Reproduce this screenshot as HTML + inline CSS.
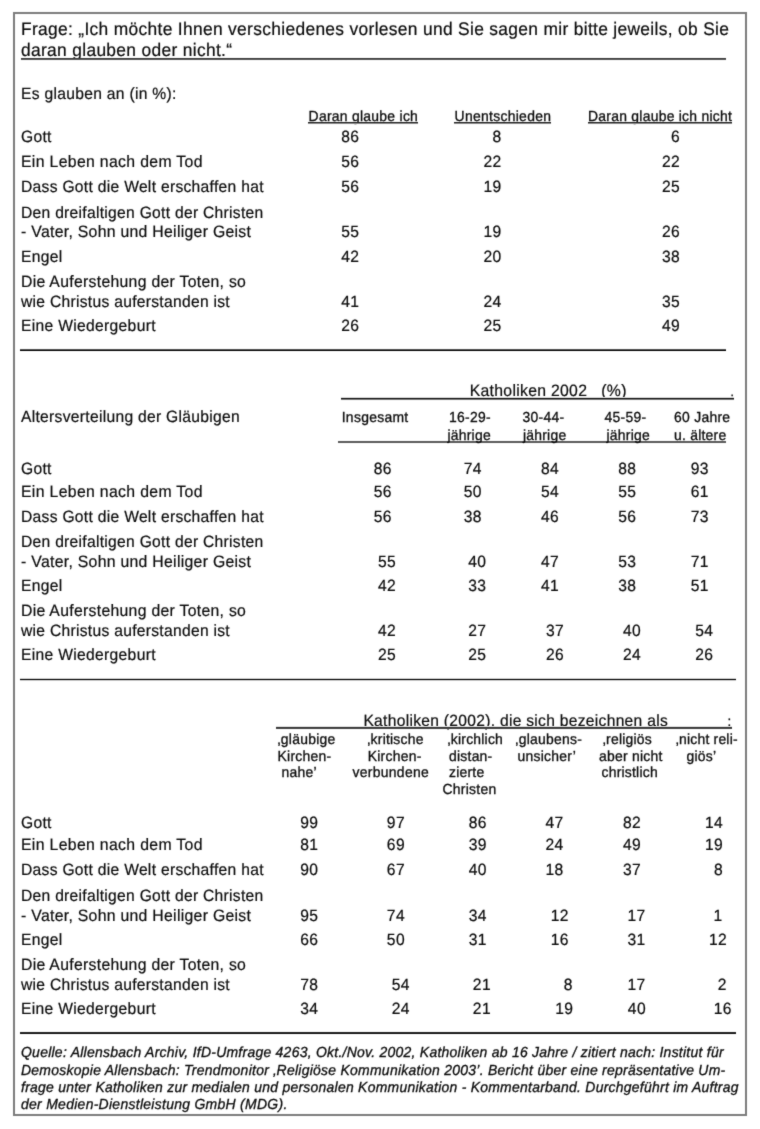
<!DOCTYPE html>
<html lang="de">
<head>
<meta charset="utf-8">
<title>Tabelle</title>
<style>
html,body{margin:0;padding:0;background:#fff;}
body{width:760px;height:1129px;position:relative;overflow:hidden;font-family:"Liberation Sans",sans-serif;color:#0a0a0a;}
.frame{position:absolute;left:13px;top:12px;width:734px;height:1104px;border:2px solid #7c7c7c;box-sizing:border-box;}
.page{position:absolute;left:0;top:0;width:760px;height:1129px;filter:url(#soft);}
.t{position:absolute;white-space:pre;line-height:20px;transform:scaleY(1.045);text-rendering:geometricPrecision;-webkit-text-stroke:0.2px #0a0a0a;}
.a{transform-origin:0 16px;}
.b{transform-origin:0 15px;}
.c{transform-origin:0 14px;}
.s{-webkit-text-stroke-width:0.3px;}
.u{text-decoration:underline;text-decoration-thickness:1.5px;text-underline-offset:0.2px;text-decoration-color:#2a2a2a;text-decoration-skip-ink:none;}
.i{font-style:italic;}
.hl{position:absolute;}
</style>
</head>
<body>
<svg width="0" height="0" style="position:absolute"><filter id="soft" x="0" y="0" width="100%" height="100%" color-interpolation-filters="sRGB"><feConvolveMatrix order="3" kernelMatrix="0.02 0.08 0.02 0.08 0.60 0.08 0.02 0.08 0.02" edgeMode="duplicate" preserveAlpha="false"/></filter></svg>
<div class="page">
<div class="frame"></div>
<div class="t a " style="left:21.00px;top:19px;font-size:17.386px;letter-spacing:0.326px">Frage: „Ich möchte Ihnen verschiedenes vorlesen und Sie sagen mir bitte jeweils, ob Sie</div>
<div class="t a " style="left:21.00px;top:40px;font-size:17.386px;letter-spacing:0.325px">daran glauben oder nicht.“</div>
<div class="hl" style="left:21px;top:58px;width:705px;height:1px;background:#3a3a3a"></div>
<div class="hl" style="left:21px;top:59px;width:705px;height:1px;background:#555"></div>
<div class="t c " style="left:21.00px;top:85px;font-size:15.648px;letter-spacing:0.297px">Es glauben an (in %):</div>
<div class="t b s " style="left:308.60px;top:106px;font-size:13.920px;letter-spacing:0.274px">Daran glaube ich</div>
<div class="hl" style="left:308px;top:122px;width:110px;height:1px;background:#222"></div>
<div class="hl" style="left:308px;top:123px;width:110px;height:1px;background:#8a8a8a"></div>
<div class="t b s " style="left:454.60px;top:106px;font-size:13.920px;letter-spacing:0.298px">Unentschieden</div>
<div class="hl" style="left:454px;top:122px;width:97px;height:1px;background:#222"></div>
<div class="hl" style="left:454px;top:123px;width:97px;height:1px;background:#8a8a8a"></div>
<div class="t b s " style="left:588.00px;top:106px;font-size:13.920px;letter-spacing:0.262px">Daran glaube ich nicht</div>
<div class="hl" style="left:588px;top:122px;width:144px;height:1px;background:#222"></div>
<div class="hl" style="left:588px;top:123px;width:144px;height:1px;background:#8a8a8a"></div>
<div class="t c " style="left:21.00px;top:128px;font-size:15.648px;letter-spacing:0.308px">Gott</div>
<div class="t c " style="left:21.00px;top:153px;font-size:15.802px;letter-spacing:0.331px">Ein Leben nach dem Tod</div>
<div class="t c " style="left:21.00px;top:178px;font-size:15.648px;letter-spacing:0.295px">Dass Gott die Welt erschaffen hat</div>
<div class="t c " style="left:21.00px;top:204px;font-size:15.648px;letter-spacing:0.286px">Den dreifaltigen Gott der Christen</div>
<div class="t c " style="left:21.00px;top:223px;font-size:15.802px;letter-spacing:0.288px">- Vater, Sohn und Heiliger Geist</div>
<div class="t c " style="left:21.00px;top:248px;font-size:15.648px;letter-spacing:0.334px">Engel</div>
<div class="t c " style="left:21.00px;top:273px;font-size:15.773px;letter-spacing:0.300px">Die Auferstehung der Toten, so</div>
<div class="t c " style="left:21.00px;top:293px;font-size:15.648px;letter-spacing:0.289px">wie Christus auferstanden ist</div>
<div class="t c " style="left:21.00px;top:317px;font-size:15.648px;letter-spacing:0.318px">Eine Wiedergeburt</div>
<div class="t c " style="right:400.64px;top:128px;font-size:15.648px;letter-spacing:0.363px">86</div>
<div class="t c " style="right:258.44px;top:128px;font-size:15.648px;letter-spacing:0.363px">8</div>
<div class="t c " style="right:79.94px;top:128px;font-size:15.648px;letter-spacing:0.363px">6</div>
<div class="t c " style="right:400.64px;top:153px;font-size:15.648px;letter-spacing:0.363px">56</div>
<div class="t c " style="right:258.44px;top:153px;font-size:15.648px;letter-spacing:0.363px">22</div>
<div class="t c " style="right:79.94px;top:153px;font-size:15.648px;letter-spacing:0.363px">22</div>
<div class="t c " style="right:400.64px;top:178px;font-size:15.648px;letter-spacing:0.363px">56</div>
<div class="t c " style="right:258.44px;top:178px;font-size:15.648px;letter-spacing:0.363px">19</div>
<div class="t c " style="right:79.94px;top:178px;font-size:15.648px;letter-spacing:0.363px">25</div>
<div class="t c " style="right:400.64px;top:223px;font-size:15.648px;letter-spacing:0.363px">55</div>
<div class="t c " style="right:258.44px;top:223px;font-size:15.648px;letter-spacing:0.363px">19</div>
<div class="t c " style="right:79.94px;top:223px;font-size:15.648px;letter-spacing:0.363px">26</div>
<div class="t c " style="right:400.64px;top:248px;font-size:15.648px;letter-spacing:0.363px">42</div>
<div class="t c " style="right:258.44px;top:248px;font-size:15.648px;letter-spacing:0.363px">20</div>
<div class="t c " style="right:79.94px;top:248px;font-size:15.648px;letter-spacing:0.363px">38</div>
<div class="t c " style="right:400.64px;top:293px;font-size:15.648px;letter-spacing:0.363px">41</div>
<div class="t c " style="right:258.44px;top:293px;font-size:15.648px;letter-spacing:0.363px">24</div>
<div class="t c " style="right:79.94px;top:293px;font-size:15.648px;letter-spacing:0.363px">35</div>
<div class="t c " style="right:400.64px;top:317px;font-size:15.648px;letter-spacing:0.363px">26</div>
<div class="t c " style="right:258.44px;top:317px;font-size:15.648px;letter-spacing:0.363px">25</div>
<div class="t c " style="right:79.94px;top:317px;font-size:15.648px;letter-spacing:0.363px">49</div>
<div class="hl" style="left:20px;top:349px;width:706px;height:1px;background:#555"></div>
<div class="hl" style="left:20px;top:350px;width:706px;height:1px;background:#000"></div>
<div class="t c " style="left:469.70px;top:382px;font-size:15.773px;letter-spacing:0.299px">Katholiken 2002   (%)</div>
<div class="t c s " style="left:730.50px;top:382px;font-size:12.000px;letter-spacing:0.139px">.</div>
<div class="hl" style="left:341px;top:397px;width:393px;height:1px;background:#e0e0e0"></div>
<div class="hl" style="left:341px;top:398px;width:393px;height:1px;background:#111"></div>
<div class="hl" style="left:341px;top:399px;width:393px;height:1px;background:#777"></div>
<div class="t c " style="left:21.00px;top:408px;font-size:15.648px;letter-spacing:0.292px">Altersverteilung der Gläubigen</div>
<div class="t b s " style="left:341.70px;top:407px;font-size:13.920px;letter-spacing:0.297px">Insgesamt</div>
<div class="hl" style="left:338px;top:441px;width:388px;height:1px;background:#5a5a5a"></div>
<div class="hl" style="left:338px;top:442px;width:388px;height:1px;background:#5a5a5a"></div>
<div class="t b s " style="left:449.00px;top:407px;font-size:13.920px;letter-spacing:0.279px">16-29-</div>
<div class="t b s " style="left:447.40px;top:425px;font-size:13.920px;letter-spacing:0.249px">jährige</div>
<div class="t b s " style="left:522.50px;top:407px;font-size:13.920px;letter-spacing:0.279px">30-44-</div>
<div class="t b s " style="left:522.90px;top:425px;font-size:13.920px;letter-spacing:0.249px">jährige</div>
<div class="t b s " style="left:604.50px;top:407px;font-size:13.920px;letter-spacing:0.279px">45-59-</div>
<div class="t b s " style="left:606.50px;top:425px;font-size:13.920px;letter-spacing:0.249px">jährige</div>
<div class="t b s " style="left:674.00px;top:407px;font-size:13.920px;letter-spacing:0.282px">60 Jahre</div>
<div class="t b s " style="left:674.00px;top:425px;font-size:13.920px;letter-spacing:0.233px">u. ältere</div>
<div class="t c " style="left:21.00px;top:460px;font-size:15.648px;letter-spacing:0.308px">Gott</div>
<div class="t c " style="left:21.00px;top:483px;font-size:15.802px;letter-spacing:0.331px">Ein Leben nach dem Tod</div>
<div class="t c " style="left:21.00px;top:508px;font-size:15.648px;letter-spacing:0.295px">Dass Gott die Welt erschaffen hat</div>
<div class="t c " style="left:21.00px;top:533px;font-size:15.648px;letter-spacing:0.286px">Den dreifaltigen Gott der Christen</div>
<div class="t c " style="left:21.00px;top:553px;font-size:15.802px;letter-spacing:0.288px">- Vater, Sohn und Heiliger Geist</div>
<div class="t c " style="left:21.00px;top:577px;font-size:15.648px;letter-spacing:0.334px">Engel</div>
<div class="t c " style="left:21.00px;top:602px;font-size:15.773px;letter-spacing:0.300px">Die Auferstehung der Toten, so</div>
<div class="t c " style="left:21.00px;top:622px;font-size:15.648px;letter-spacing:0.289px">wie Christus auferstanden ist</div>
<div class="t c " style="left:21.00px;top:646px;font-size:15.648px;letter-spacing:0.318px">Eine Wiedergeburt</div>
<div class="t c " style="right:368.24px;top:460px;font-size:15.648px;letter-spacing:0.363px">86</div>
<div class="t c " style="right:278.14px;top:460px;font-size:15.648px;letter-spacing:0.363px">74</div>
<div class="t c " style="right:200.94px;top:460px;font-size:15.648px;letter-spacing:0.363px">84</div>
<div class="t c " style="right:123.64px;top:460px;font-size:15.648px;letter-spacing:0.363px">88</div>
<div class="t c " style="right:51.14px;top:460px;font-size:15.648px;letter-spacing:0.363px">93</div>
<div class="t c " style="right:368.24px;top:483px;font-size:15.648px;letter-spacing:0.363px">56</div>
<div class="t c " style="right:278.14px;top:483px;font-size:15.648px;letter-spacing:0.363px">50</div>
<div class="t c " style="right:200.94px;top:483px;font-size:15.648px;letter-spacing:0.363px">54</div>
<div class="t c " style="right:123.64px;top:483px;font-size:15.648px;letter-spacing:0.363px">55</div>
<div class="t c " style="right:51.14px;top:483px;font-size:15.648px;letter-spacing:0.363px">61</div>
<div class="t c " style="right:368.24px;top:508px;font-size:15.648px;letter-spacing:0.363px">56</div>
<div class="t c " style="right:278.14px;top:508px;font-size:15.648px;letter-spacing:0.363px">38</div>
<div class="t c " style="right:200.94px;top:508px;font-size:15.648px;letter-spacing:0.363px">46</div>
<div class="t c " style="right:123.64px;top:508px;font-size:15.648px;letter-spacing:0.363px">56</div>
<div class="t c " style="right:51.14px;top:508px;font-size:15.648px;letter-spacing:0.363px">73</div>
<div class="t c " style="right:363.94px;top:553px;font-size:15.648px;letter-spacing:0.363px">55</div>
<div class="t c " style="right:273.64px;top:553px;font-size:15.648px;letter-spacing:0.363px">40</div>
<div class="t c " style="right:200.94px;top:553px;font-size:15.648px;letter-spacing:0.363px">47</div>
<div class="t c " style="right:123.64px;top:553px;font-size:15.648px;letter-spacing:0.363px">53</div>
<div class="t c " style="right:51.14px;top:553px;font-size:15.648px;letter-spacing:0.363px">71</div>
<div class="t c " style="right:363.94px;top:577px;font-size:15.648px;letter-spacing:0.363px">42</div>
<div class="t c " style="right:273.64px;top:577px;font-size:15.648px;letter-spacing:0.363px">33</div>
<div class="t c " style="right:200.94px;top:577px;font-size:15.648px;letter-spacing:0.363px">41</div>
<div class="t c " style="right:123.64px;top:577px;font-size:15.648px;letter-spacing:0.363px">38</div>
<div class="t c " style="right:51.14px;top:577px;font-size:15.648px;letter-spacing:0.363px">51</div>
<div class="t c " style="right:363.94px;top:622px;font-size:15.648px;letter-spacing:0.363px">42</div>
<div class="t c " style="right:273.64px;top:622px;font-size:15.648px;letter-spacing:0.363px">27</div>
<div class="t c " style="right:195.94px;top:622px;font-size:15.648px;letter-spacing:0.363px">37</div>
<div class="t c " style="right:118.94px;top:622px;font-size:15.648px;letter-spacing:0.363px">40</div>
<div class="t c " style="right:46.64px;top:622px;font-size:15.648px;letter-spacing:0.363px">54</div>
<div class="t c " style="right:363.94px;top:646px;font-size:15.648px;letter-spacing:0.363px">25</div>
<div class="t c " style="right:273.64px;top:646px;font-size:15.648px;letter-spacing:0.363px">25</div>
<div class="t c " style="right:195.94px;top:646px;font-size:15.648px;letter-spacing:0.363px">26</div>
<div class="t c " style="right:118.94px;top:646px;font-size:15.648px;letter-spacing:0.363px">24</div>
<div class="t c " style="right:46.64px;top:646px;font-size:15.648px;letter-spacing:0.363px">26</div>
<div class="hl" style="left:20px;top:678px;width:716px;height:1px;background:#d8d8d8"></div>
<div class="hl" style="left:20px;top:679px;width:716px;height:1px;background:#000"></div>
<div class="hl" style="left:20px;top:680px;width:716px;height:1px;background:#d8d8d8"></div>
<div class="t c " style="left:363.40px;top:712px;font-size:15.619px;letter-spacing:0.290px">Katholiken (2002), die sich bezeichnen als</div>
<div class="t c s " style="left:727.60px;top:712px;font-size:13.440px;letter-spacing:0.156px">:</div>
<div class="hl" style="left:276px;top:726px;width:456px;height:1px;background:#e8e8e8"></div>
<div class="hl" style="left:276px;top:727px;width:456px;height:1px;background:#333"></div>
<div class="hl" style="left:276px;top:728px;width:456px;height:1px;background:#444"></div>
<div class="t b s " style="left:277.50px;top:729px;font-size:13.920px;letter-spacing:0.258px">‚gläubige</div>
<div class="t b s " style="left:277.50px;top:746px;font-size:13.920px;letter-spacing:0.270px">Kirchen-</div>
<div class="t b s " style="left:281.50px;top:762px;font-size:13.920px;letter-spacing:0.284px">nahe’</div>
<div class="t b s " style="left:367.30px;top:729px;font-size:13.920px;letter-spacing:0.226px">‚kritische</div>
<div class="t b s " style="left:367.70px;top:746px;font-size:13.920px;letter-spacing:0.270px">Kirchen-</div>
<div class="t b s " style="left:352.50px;top:762px;font-size:13.920px;letter-spacing:0.306px">verbundene</div>
<div class="t b s " style="left:447.50px;top:729px;font-size:13.920px;letter-spacing:0.222px">‚kirchlich</div>
<div class="t b s " style="left:449.00px;top:746px;font-size:13.920px;letter-spacing:0.249px">distan-</div>
<div class="t b s " style="left:449.00px;top:762px;font-size:13.920px;letter-spacing:0.236px">zierte</div>
<div class="t b s " style="left:442.50px;top:779px;font-size:13.920px;letter-spacing:0.270px">Christen</div>
<div class="t b s " style="left:515.30px;top:729px;font-size:13.920px;letter-spacing:0.268px">‚glaubens-</div>
<div class="t b s " style="left:517.50px;top:746px;font-size:13.920px;letter-spacing:0.260px">unsicher’</div>
<div class="t b s " style="left:602.80px;top:729px;font-size:13.920px;letter-spacing:0.218px">‚religiös</div>
<div class="t b s " style="left:599.00px;top:746px;font-size:13.920px;letter-spacing:0.255px">aber nicht</div>
<div class="t b s " style="left:601.50px;top:762px;font-size:13.920px;letter-spacing:0.226px">christlich</div>
<div class="t b s " style="left:675.80px;top:729px;font-size:13.920px;letter-spacing:0.207px">‚nicht reli-</div>
<div class="t b s " style="left:686.50px;top:746px;font-size:13.920px;letter-spacing:0.239px">giös’</div>
<div class="t c " style="left:21.00px;top:814px;font-size:15.648px;letter-spacing:0.308px">Gott</div>
<div class="t c " style="left:21.00px;top:836px;font-size:15.802px;letter-spacing:0.331px">Ein Leben nach dem Tod</div>
<div class="t c " style="left:21.00px;top:861px;font-size:15.648px;letter-spacing:0.295px">Dass Gott die Welt erschaffen hat</div>
<div class="t c " style="left:21.00px;top:887px;font-size:15.648px;letter-spacing:0.286px">Den dreifaltigen Gott der Christen</div>
<div class="t c " style="left:21.00px;top:907px;font-size:15.802px;letter-spacing:0.288px">- Vater, Sohn und Heiliger Geist</div>
<div class="t c " style="left:21.00px;top:931px;font-size:15.648px;letter-spacing:0.334px">Engel</div>
<div class="t c " style="left:21.00px;top:956px;font-size:15.773px;letter-spacing:0.300px">Die Auferstehung der Toten, so</div>
<div class="t c " style="left:21.00px;top:976px;font-size:15.648px;letter-spacing:0.289px">wie Christus auferstanden ist</div>
<div class="t c " style="left:21.00px;top:1000px;font-size:15.648px;letter-spacing:0.318px">Eine Wiedergeburt</div>
<div class="t c " style="right:441.64px;top:814px;font-size:15.648px;letter-spacing:0.363px">99</div>
<div class="t c " style="right:355.04px;top:814px;font-size:15.648px;letter-spacing:0.363px">97</div>
<div class="t c " style="right:273.24px;top:814px;font-size:15.648px;letter-spacing:0.363px">86</div>
<div class="t c " style="right:196.44px;top:814px;font-size:15.648px;letter-spacing:0.363px">47</div>
<div class="t c " style="right:118.84px;top:814px;font-size:15.648px;letter-spacing:0.363px">82</div>
<div class="t c " style="right:36.94px;top:814px;font-size:15.648px;letter-spacing:0.363px">14</div>
<div class="t c " style="right:441.64px;top:836px;font-size:15.648px;letter-spacing:0.363px">81</div>
<div class="t c " style="right:355.04px;top:836px;font-size:15.648px;letter-spacing:0.363px">69</div>
<div class="t c " style="right:273.24px;top:836px;font-size:15.648px;letter-spacing:0.363px">39</div>
<div class="t c " style="right:196.44px;top:836px;font-size:15.648px;letter-spacing:0.363px">24</div>
<div class="t c " style="right:118.84px;top:836px;font-size:15.648px;letter-spacing:0.363px">49</div>
<div class="t c " style="right:36.94px;top:836px;font-size:15.648px;letter-spacing:0.363px">19</div>
<div class="t c " style="right:441.64px;top:861px;font-size:15.648px;letter-spacing:0.363px">90</div>
<div class="t c " style="right:355.04px;top:861px;font-size:15.648px;letter-spacing:0.363px">67</div>
<div class="t c " style="right:273.24px;top:861px;font-size:15.648px;letter-spacing:0.363px">40</div>
<div class="t c " style="right:196.44px;top:861px;font-size:15.648px;letter-spacing:0.363px">18</div>
<div class="t c " style="right:118.84px;top:861px;font-size:15.648px;letter-spacing:0.363px">37</div>
<div class="t c " style="right:36.94px;top:861px;font-size:15.648px;letter-spacing:0.363px">8</div>
<div class="t c " style="right:441.64px;top:907px;font-size:15.648px;letter-spacing:0.363px">95</div>
<div class="t c " style="right:355.04px;top:907px;font-size:15.648px;letter-spacing:0.363px">74</div>
<div class="t c " style="right:273.24px;top:907px;font-size:15.648px;letter-spacing:0.363px">34</div>
<div class="t c " style="right:191.24px;top:907px;font-size:15.648px;letter-spacing:0.363px">12</div>
<div class="t c " style="right:114.44px;top:907px;font-size:15.648px;letter-spacing:0.363px">17</div>
<div class="t c " style="right:37.34px;top:907px;font-size:15.648px;letter-spacing:0.363px">1</div>
<div class="t c " style="right:441.64px;top:931px;font-size:15.648px;letter-spacing:0.363px">66</div>
<div class="t c " style="right:355.04px;top:931px;font-size:15.648px;letter-spacing:0.363px">50</div>
<div class="t c " style="right:273.24px;top:931px;font-size:15.648px;letter-spacing:0.363px">31</div>
<div class="t c " style="right:191.24px;top:931px;font-size:15.648px;letter-spacing:0.363px">16</div>
<div class="t c " style="right:114.44px;top:931px;font-size:15.648px;letter-spacing:0.363px">31</div>
<div class="t c " style="right:32.84px;top:931px;font-size:15.648px;letter-spacing:0.363px">12</div>
<div class="t c " style="right:441.64px;top:976px;font-size:15.648px;letter-spacing:0.363px">78</div>
<div class="t c " style="right:350.14px;top:976px;font-size:15.648px;letter-spacing:0.363px">54</div>
<div class="t c " style="right:269.04px;top:976px;font-size:15.648px;letter-spacing:0.363px">21</div>
<div class="t c " style="right:187.14px;top:976px;font-size:15.648px;letter-spacing:0.363px">8</div>
<div class="t c " style="right:114.44px;top:976px;font-size:15.648px;letter-spacing:0.363px">17</div>
<div class="t c " style="right:33.14px;top:976px;font-size:15.648px;letter-spacing:0.363px">2</div>
<div class="t c " style="right:441.64px;top:1000px;font-size:15.648px;letter-spacing:0.363px">34</div>
<div class="t c " style="right:350.14px;top:1000px;font-size:15.648px;letter-spacing:0.363px">24</div>
<div class="t c " style="right:269.04px;top:1000px;font-size:15.648px;letter-spacing:0.363px">21</div>
<div class="t c " style="right:186.64px;top:1000px;font-size:15.648px;letter-spacing:0.363px">19</div>
<div class="t c " style="right:114.04px;top:1000px;font-size:15.648px;letter-spacing:0.363px">40</div>
<div class="t c " style="right:28.24px;top:1000px;font-size:15.648px;letter-spacing:0.363px">16</div>
<div class="hl" style="left:20px;top:1032px;width:716px;height:1px;background:#222"></div>
<div class="hl" style="left:20px;top:1033px;width:716px;height:1px;background:#111"></div>
<div class="t b s i" style="left:21.00px;top:1042px;font-size:13.987px;letter-spacing:0.251px">Quelle: Allensbach Archiv, IfD-Umfrage 4263, Okt./Nov. 2002, Katholiken ab 16 Jahre / zitiert nach: Institut für</div>
<div class="t b s i" style="left:21.00px;top:1060px;font-size:13.949px;letter-spacing:0.271px">Demoskopie Allensbach: Trendmonitor ‚Religiöse Kommunikation 2003’. Bericht über eine repräsentative Um-</div>
<div class="t b s i" style="left:21.00px;top:1077px;font-size:13.920px;letter-spacing:0.274px">frage unter Katholiken zur medialen und personalen Kommunikation - Kommentarband. Durchgeführt im Auftrag</div>
<div class="t b s i" style="left:21.00px;top:1094px;font-size:13.968px;letter-spacing:0.288px">der Medien-Dienstleistung GmbH (MDG).</div>
</div>
</body>
</html>
